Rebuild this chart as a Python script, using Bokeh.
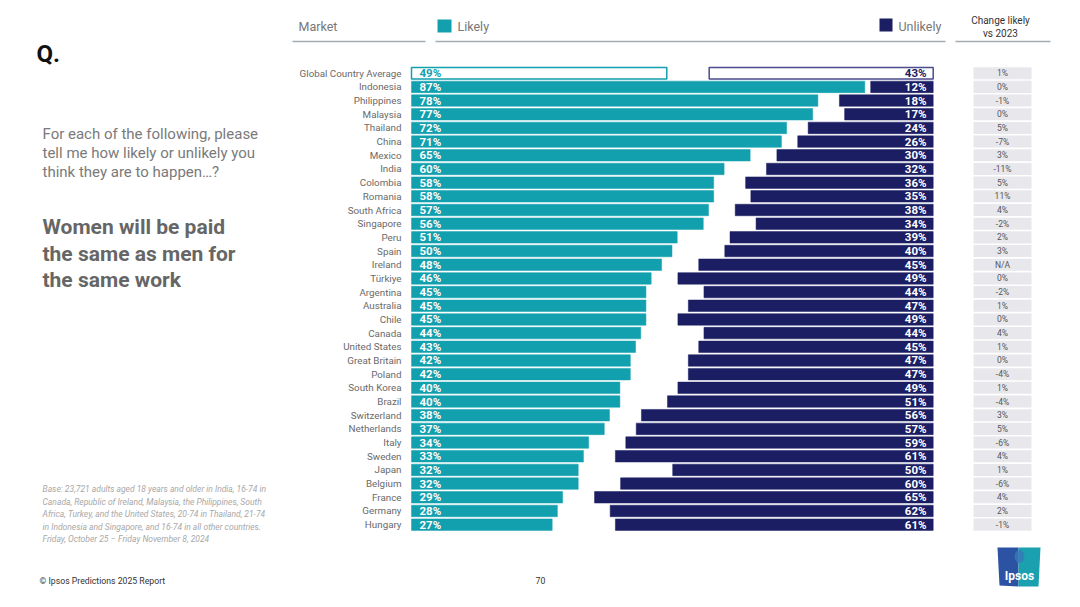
from bokeh.plotting import figure
from bokeh.models import Range1d, ColumnDataSource
from bokeh.core.properties import value
from bokeh.embed import file_html
from bokeh.resources import INLINE

# ---------------- data ----------------
markets = ["Global Country Average", "Indonesia", "Philippines", "Malaysia", "Thailand", "China",
           "Mexico", "India", "Colombia", "Romania", "South Africa", "Singapore", "Peru", "Spain",
           "Ireland", "Türkiye", "Argentina", "Australia", "Chile", "Canada", "United States",
           "Great Britain", "Poland", "South Korea", "Brazil", "Switzerland", "Netherlands", "Italy",
           "Sweden", "Japan", "Belgium", "France", "Germany", "Hungary"]
likely = [49, 87, 78, 77, 72, 71, 65, 60, 58, 58, 57, 56, 51, 50, 48, 46, 45, 45, 45, 44, 43, 42,
          42, 40, 40, 38, 37, 34, 33, 32, 32, 29, 28, 27]
unlikely = [43, 12, 18, 17, 24, 26, 30, 32, 36, 35, 38, 34, 39, 40, 45, 49, 44, 47, 49, 44, 45, 47,
            47, 49, 51, 56, 57, 59, 61, 50, 60, 65, 62, 61]
change = ["1%", "0%", "-1%", "0%", "5%", "-7%", "3%", "-11%", "5%", "11%", "4%", "-2%", "2%", "3%",
          "N/A", "0%", "-2%", "1%", "0%", "4%", "1%", "0%", "-4%", "1%", "-4%", "3%", "5%", "-6%",
          "4%", "1%", "-6%", "4%", "2%", "-1%"]
series_names = ["Likely", "Unlikely"]
change_header = ["Change likely", "vs 2023"]

# ---------------- styles ----------------
TEAL = "#12a0ae"
NAVY = "#1b1e62"
NAVY_OUT = "#4b4b8f"
FONT = value("Roboto")

n = len(markets)
rows = list(range(n))
src = ColumnDataSource(dict(
    row=rows,
    market=markets,
    likely=likely,
    unlikely=unlikely,
    zero=[0] * n,
    change=change,
    lk_lab=[f"{v}%" for v in likely],
    un_lab=[f"{v}%" for v in unlikely],
    lk_fill=["#ffffff"] + [TEAL] * (n - 1),
    lk_line=[TEAL] * n,
    un_fill=["#ffffff"] + [NAVY] * (n - 1),
    un_line=[NAVY_OUT] + [NAVY] * (n - 1),
    lk_txt=[TEAL] + ["#ffffff"] * (n - 1),
    un_txt=[NAVY] + ["#ffffff"] * (n - 1),
    lk_lw=[1.5] + [0.5] * (n - 1),
))

W, H = 1064, 591
p = figure(width=W, height=H, output_backend="svg", toolbar_location=None,
           x_range=Range1d(0, W), y_range=Range1d(H, 0),
           x_axis_location=None, y_axis_location=None, min_border=0,
           background_fill_color="white", border_fill_color="white")
p.outline_line_color = None
p.grid.visible = False

# scales: likely grows right from x=411, unlikely grows left from x=932.7, 5.21 px per %
PX = 5.21
X_LK0, X_UN0 = 411, 932.7
p.extra_x_ranges = {
    "lk": Range1d((0 - X_LK0) / PX, (W - X_LK0) / PX),
    "un": Range1d(X_UN0 / PX, (X_UN0 - W) / PX),
}
ROW0, STEP = 72.7, 13.68
p.extra_y_ranges = {"rows": Range1d((H - ROW0) / STEP, (0 - ROW0) / STEP)}

# bars
p.hbar(y="row", left="zero", right="likely", height=0.84, source=src,
       fill_color="lk_fill", line_color="lk_line", line_width="lk_lw",
       x_range_name="lk", y_range_name="rows")
p.hbar(y="row", left="zero", right="unlikely", height=0.84, source=src,
       fill_color="un_fill", line_color="un_line", line_width="lk_lw",
       x_range_name="un", y_range_name="rows")

# value labels
p.text(x=419, y="row", text="lk_lab", source=src, y_range_name="rows",
       text_color="lk_txt", text_font=FONT, text_font_style="bold", text_font_size="11.5px",
       text_align="left", text_baseline="middle")
p.text(x=926, y="row", text="un_lab", source=src, y_range_name="rows",
       text_color="un_txt", text_font=FONT, text_font_style="bold", text_font_size="11.5px",
       text_align="right", text_baseline="middle")

# market labels
p.text(x=401, y="row", text="market", source=src, y_range_name="rows",
       text_color="#6a6a6a", text_font=FONT, text_font_size="9.8px",
       text_align="right", text_baseline="middle")

# change column
p.rect(x=1002, y="row", width=58, height=0.88, source=src, y_range_name="rows",
       fill_color="#e8e8ec", line_color=None)
p.text(x=1002, y="row", text="change", source=src, y_range_name="rows",
       text_color="#555555", text_font=FONT, text_font_size="8.5px",
       text_align="center", text_baseline="middle")

# header
p.text(x=[298], y=[26], text=["Market"], text_color="#777777", text_font=FONT,
       text_font_size="12.5px", text_baseline="middle")
p.segment(x0=[292, 435, 955], y0=[41, 41, 41], x1=[425, 945, 1050], y1=[41, 41, 41],
          line_color="#a3abb0", line_width=1.5)
p.quad(left=[437, 879], right=[451, 892], top=[19, 18], bottom=[32, 31],
       fill_color=[TEAL, NAVY], line_color=None)
p.text(x=[457], y=[26], text=[series_names[0]], text_color="#777777", text_font=FONT,
       text_font_size="12.5px", text_baseline="middle")
p.text(x=[898], y=[26], text=[series_names[1]], text_color="#777777", text_font=FONT,
       text_font_size="12.5px", text_baseline="middle")
p.text(x=[1000, 1000], y=[19.5, 33], text=change_header, text_color="#333333", text_font=FONT,
       text_font_size="10px", text_align="center", text_baseline="middle")

# left panel
p.text(x=[36], y=[53], text=["Q."], text_color="#111111", text_font=FONT, text_font_style="bold",
       text_font_size="24px", text_baseline="middle")
p.text(x=[42, 42, 42], y=[133, 152, 171],
       text=["For each of the following, please", "tell me how likely or unlikely you",
             "think they are to happen…?"],
       text_color="#7a7a7a", text_font=FONT, text_font_size="15px", text_baseline="middle")
p.text(x=[42, 42, 42], y=[226, 253, 279],
       text=["Women will be paid", "the same as men for", "the same work"],
       text_color="#666666", text_font=FONT, text_font_style="bold", text_font_size="21px",
       text_baseline="middle")
p.text(x=[42] * 5, y=[488.5, 501, 513.5, 526, 538.5],
       text=["Base: 23,721 adults aged 18 years and older in India, 16-74 in",
             "Canada, Republic of Ireland, Malaysia, the Philippines, South",
             "Africa, Turkey, and the United States, 20-74 in Thailand, 21-74",
             "in Indonesia and Singapore, and 16-74 in all other countries.",
             "Friday, October 25 – Friday November  8, 2024"],
       text_color="#a8a8a8", text_font=FONT, text_font_style="italic", text_font_size="8.5px",
       text_baseline="middle")
p.text(x=[39], y=[580], text=["© Ipsos Predictions 2025 Report"], text_color="#333333",
       text_font=FONT, text_font_size="8.7px", text_baseline="middle")
p.text(x=[540], y=[580], text=["70"], text_color="#333333", text_font=FONT,
       text_font_size="8.7px", text_align="center", text_baseline="middle")

# Ipsos logo
p.patch(x=[997, 1018, 1018, 999], y=[547, 547, 586, 585], fill_color="#2b52a3", line_color=None)
p.patch(x=[1018, 1040, 1038, 1018], y=[547, 547, 586, 586], fill_color="#1ba0b0", line_color=None)
p.ellipse(x=[1019], y=[556], width=[10], height=[13], fill_color="#3a78b8", line_color=None, alpha=0.8)
p.text(x=[1019], y=[575], text=["Ipsos"], text_color="white", text_font=FONT,
       text_font_style="bold", text_font_size="12px", text_align="center", text_baseline="middle")

open("out.html", "w").write(file_html(p, INLINE))
